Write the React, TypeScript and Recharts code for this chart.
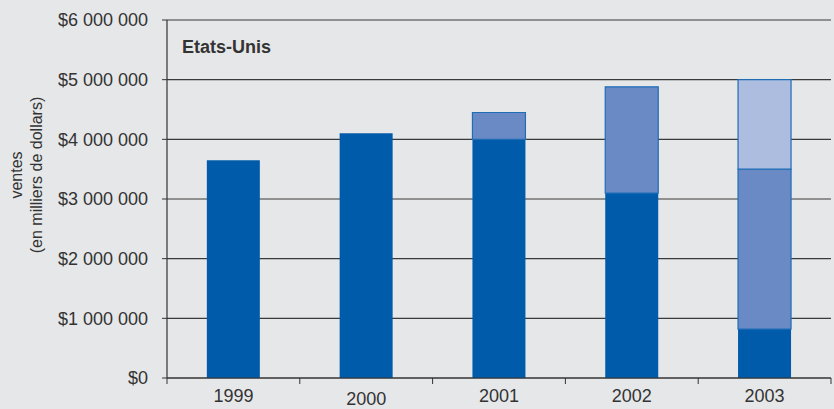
import React from "react"
import { BarChart, Bar, XAxis, YAxis, CartesianGrid } from "recharts"

const years = ["1999", "2000", "2001", "2002", "2003"]
const darkPart = [3650000, 4100000, 4000000, 3100000, 820000]
const midPart = [0, 0, 450000, 1780000, 2680000]
const lightPart = [0, 0, 0, 0, 1500000]
const yTicks = [0, 1000000, 2000000, 3000000, 4000000, 5000000, 6000000]
const labelDrop = [0, 3, 0, 0, 0]

const data = years.map((year, i) => ({
  year,
  dark: darkPart[i],
  mid: midPart[i],
  light: lightPart[i],
}))

const W = 834
const H = 409
const left = 167
const right = 3
const halfBand = (W - left - right) / years.length / 2

const fmt = (v: number) => "$" + v.toLocaleString("en-US").replace(/,/g, " ")

function YearTick(props: any) {
  const { x, y, payload, index } = props
  const isLast = index === years.length - 1
  return (
    <g>
      <line x1={x - halfBand} x2={x - halfBand} y1={y - 8} y2={y - 2} stroke="#333" />
      {isLast && <line x1={x + halfBand} x2={x + halfBand} y1={y - 8} y2={y - 2} stroke="#333" />}
      <text x={x} y={y + 16 + labelDrop[index]} textAnchor="middle" fill="#333" fontSize={18}>
        {payload.value}
      </text>
    </g>
  )
}

function AxisTitle(props: any) {
  const cy = 175
  return (
    <g transform={`rotate(-90, 27, ${cy})`} fill="#333" fontSize={16}>
      <text x={27} y={cy - 5} textAnchor="middle">ventes</text>
      <text x={27} y={cy + 15} textAnchor="middle">(en milliers de dollars)</text>
    </g>
  )
}

export default function App() {
  return (
    <div
      style={{
        position: "fixed",
        top: 0,
        left: 0,
        width: W,
        height: H,
        background: "#e6e7e9",
        fontFamily: "'Liberation Sans', Arial, sans-serif",
      }}
    >
      <BarChart
        width={W}
        height={H}
        data={data}
        margin={{ top: 20, right: right, bottom: 1, left: 0 }}
        barCategoryGap="30%"
      >
        <CartesianGrid vertical={false} stroke="#3a3a3a" strokeWidth={1.2} horizontalValues={yTicks} />
        <XAxis
          dataKey="year"
          height={30}
          axisLine={{ stroke: "#333", strokeWidth: 1.2 }}
          tickLine={false}
          tick={<YearTick />}
          interval={0}
        />
        <YAxis
          width={left}
          domain={[0, 6000000]}
          ticks={yTicks}
          tickFormatter={fmt}
          axisLine={{ stroke: "#333", strokeWidth: 1.2 }}
          tickLine={{ stroke: "#333" }}
          tickSize={5}
          tickMargin={14}
          tick={{ fill: "#333", fontSize: 18 }}
          interval={0}
          label={<AxisTitle />}
        />
        <YAxis
          yAxisId="edge"
          orientation="right"
          width={0}
          tick={false}
          tickLine={false}
          axisLine={{ stroke: "#333", strokeWidth: 1.2 }}
        />
        <Bar dataKey="dark" stackId="s" fill="#005baa" isAnimationActive={false} />
        <Bar dataKey="mid" stackId="s" fill="#6a8ac6" stroke="#1f6db5" strokeWidth={1.2} isAnimationActive={false} />
        <Bar dataKey="light" stackId="s" fill="#adbde0" stroke="#1f6db5" strokeWidth={1.2} isAnimationActive={false} />
      </BarChart>
      <div
        style={{
          position: "absolute",
          left: 182,
          top: 37,
          fontSize: 18,
          fontWeight: "bold",
          color: "#333",
        }}
      >
        Etats-Unis
      </div>
    </div>
  )
}
